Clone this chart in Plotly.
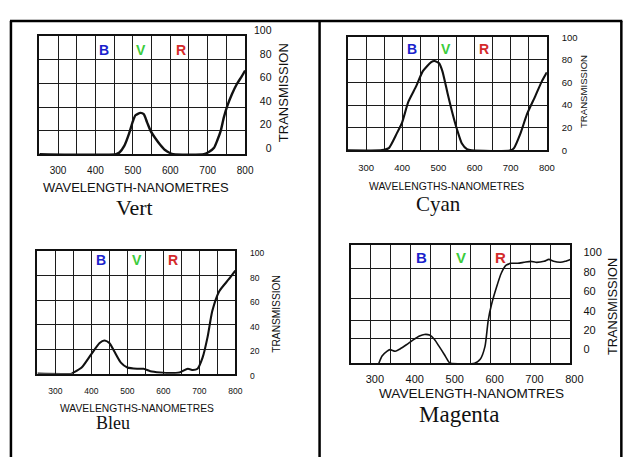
import plotly.graph_objects as go

W, H = 643, 457
OFF = 8  # the page adds an 8 px body margin; positions below are in picture pixels

# ---------------- data ----------------
x_tickvals = [250, 300, 350, 400, 450, 500, 550, 600, 650, 700, 750, 800]
x_ticktext = ["", "300", "", "400", "", "500", "", "600", "", "700", "", "800"]
y_tickvals = [0, 20, 40, 60, 80, 100]
y_ticktext = ["0", "20", "40", "60", "80", "100"]

bvr_letters = ["B", "V", "R"]
bvr_colors = ["#1a22cc", "#3ccc3c", "#d42a2a"]

# Vert
vert_nm = [250, 455, 464, 477, 490, 499, 507, 520, 529, 538, 547, 560, 573, 586,
           599, 608, 690, 704, 717, 726, 735, 743, 752, 765, 778, 791, 800]
vert_t = [0, 0, 1.4, 7, 17.6, 27, 33, 35, 34, 27, 20, 13.5, 8, 3.5,
          1, 0, 0, 2, 5.4, 12, 20, 31, 40.5, 51, 59.5, 66, 71]
vert_bvr_nm = [424, 522, 628]
vert_bvr_t = 88

# Cyan
cyan_nm = [250, 340, 349, 363, 385, 399, 417, 439, 457, 480, 489, 502, 511, 525,
           538, 552, 565, 579, 592, 700, 709, 727, 745, 768, 786, 800]
cyan_t = [0, 0, 0.5, 2, 15, 24, 43, 57, 70, 78, 79, 77, 70, 51,
          34, 18, 6, 1, 0, 0, 2, 15, 32, 48, 61, 69]
cyan_bvr_nm = [426, 522, 626]
cyan_bvr_t = 89.5

# Bleu
bleu_nm = [250, 345, 350, 373, 400, 423, 436, 450, 464, 482, 500, 527, 545, 564,
           591, 618, 645, 668, 682, 695, 709, 723, 736, 755, 782, 800]
bleu_t = [0, 0, 0.8, 5, 16, 25, 27, 25, 18, 9, 5, 4, 4, 2,
          1, 0.5, 1, 4, 3, 4, 13, 30, 51, 67, 77, 84]
bleu_bvr_nm = [427, 527, 627]
bleu_bvr_t = 93

# Magenta (values against the printed 0..100 labels)
mag_nm = [320, 328, 340, 348, 361, 373, 389, 406, 422, 434, 447, 459, 471, 484,
          496, 500, 560, 574, 586, 594, 602, 615, 627, 639, 652, 668, 684, 701,
          713, 734, 746, 758, 775, 787, 800]
mag_t = [-14, -6.6, -1.7, 0, -1.7, 0.7, 5, 10, 14, 15.6, 15, 10.6, 3.3, -5,
         -13, -14, -14, -10, 3.3, 30, 46, 64.6, 79, 87, 89, 89, 90, 91,
         90, 91, 93, 91, 90, 91, 93]
mag_grid_t = [-13.9, 11.6, 29.8, 52.3, 83.4, 107.6]
mag_range = [-13.9, 107.6]
mag_bvr_nm = [426, 526, 625]
mag_bvr_t = 95

SANS = "Liberation Sans, Arial, sans-serif"
SERIF = "Liberation Serif, Times New Roman, serif"
INK = "#111111"


def px(x):
    return (x - OFF) / W


def py(y):
    return 1 - (y - OFF) / H


def xd(a, b):
    return [px(a), px(b)]


def yd(top, bottom):
    return [py(bottom), py(top)]


def xaxis(dom, anchor, fsize, standoff, shift=0):
    return dict(domain=dom, anchor=anchor, range=[250, 800], tickvals=x_tickvals,
                ticktext=x_ticktext, showgrid=True, gridcolor="#1c1c1c", gridwidth=1.3,
                showline=True, mirror=True, linecolor=INK, linewidth=2, zeroline=False,
                ticks="", tickfont=dict(family=SANS, size=fsize, color=INK),
                ticklabelstandoff=standoff, ticklabelshift=shift, fixedrange=True)


def yaxis(dom, anchor, fsize, standoff, show_labels=True, rng=(0, 100), grid=None, shift=0):
    return dict(domain=dom, anchor=anchor, range=list(rng),
                tickvals=grid if grid is not None else y_tickvals,
                ticktext=None if grid is not None else y_ticktext,
                side="right", showticklabels=show_labels, showgrid=True,
                gridcolor="#1c1c1c", gridwidth=1.3, showline=True, mirror=True,
                linecolor=INK, linewidth=2, zeroline=False, ticks="",
                tickfont=dict(family=SANS, size=fsize, color=INK),
                ticklabelstandoff=standoff, ticklabelshift=shift, fixedrange=True)


fig = go.Figure()

curves = [
    (vert_nm, vert_t, "x", "y", 2.4),
    (cyan_nm, cyan_t, "x2", "y2", 2.1),
    (bleu_nm, bleu_t, "x3", "y3", 2.1),
    (mag_nm, mag_t, "x4", "y4", 1.6),
]
for nm, t, xa, ya, lw in curves:
    fig.add_trace(go.Scatter(x=nm, y=t, xaxis=xa, yaxis=ya, mode="lines",
                             line=dict(color=INK, width=lw, shape="spline", smoothing=0.6),
                             showlegend=False, hoverinfo="skip"))

# helper traces so the label-only overlay axes get drawn
fig.add_trace(go.Scatter(x=[], y=[], xaxis="x", yaxis="y5", showlegend=False, hoverinfo="skip"))
fig.add_trace(go.Scatter(x=[], y=[], xaxis="x4", yaxis="y6", showlegend=False, hoverinfo="skip"))

layout = dict(
    width=W, height=H, margin=dict(l=0, r=0, t=0, b=0),
    paper_bgcolor="white", plot_bgcolor="white", showlegend=False,
    xaxis=xaxis(xd(40, 250), "y", 10, 6),
    yaxis=yaxis(yd(25, 148), "x", 10.5, 8, show_labels=False),
    xaxis2=xaxis(xd(355, 558), "y2", 9.5, 7),
    yaxis2=yaxis(yd(26, 144), "x2", 9.5, 11),
    xaxis3=xaxis(xd(38, 240), "y3", 8.5, 8),
    yaxis3=yaxis(yd(249, 377), "x3", 8.5, 11, shift=2),
    xaxis4=xaxis(xd(358, 582), "y4", 11, 5, shift=4),
    yaxis4=yaxis(yd(243, 366), "x4", 11, 12, show_labels=False, rng=mag_range, grid=mag_grid_t),
    yaxis5=dict(overlaying="y", anchor="free", position=px(280), side="right",
                range=[0, 100], tickvals=y_tickvals, ticktext=y_ticktext,
                ticklabelposition="inside", ticklabeloverflow="allow",
                showgrid=False, showline=False, zeroline=False, ticks="",
                ticklabelshift=-6, tickfont=dict(family=SANS, size=10.5, color=INK),
                fixedrange=True),
    yaxis6=dict(overlaying="y4", anchor="x4", side="right", range=mag_range,
                tickvals=y_tickvals, ticktext=y_ticktext, showgrid=False,
                showline=False, zeroline=False, ticks="", ticklabelstandoff=12,
                tickfont=dict(family=SANS, size=11, color=INK), fixedrange=True),
)
fig.update_layout(**layout)

ann = []
# B V R letters
for xa, ya, nms, t, fs in [("x", "y", vert_bvr_nm, vert_bvr_t, 14),
                           ("x2", "y2", cyan_bvr_nm, cyan_bvr_t, 14),
                           ("x3", "y3", bleu_bvr_nm, bleu_bvr_t, 14),
                           ("x4", "y4", mag_bvr_nm, mag_bvr_t, 15)]:
    for letter, col, nm in zip(bvr_letters, bvr_colors, nms):
        ann.append(dict(x=nm, y=t, xref=xa, yref=ya, text="<b>%s</b>" % letter,
                        showarrow=False, font=dict(family=SANS, size=fs, color=col)))


def ptext(text, x, y, size, family=SANS, angle=0):
    ann.append(dict(x=px(x), y=py(y), xref="paper", yref="paper", text=text,
                    showarrow=False, xanchor="center", yanchor="middle", textangle=angle,
                    borderpad=0, font=dict(family=family, size=size, color=INK)))


ptext("WAVELENGTH-NANOMETRES", 139, 183, 13)
ptext("WAVELENGTHS-NANOMETRES", 456, 181.5, 10.4)
ptext("WAVELENGTHS-NANOMETRES", 140, 413, 10.3)
ptext("WAVELENGTH-NANOMTRES", 481, 398, 13.6)

ptext("TRANSMISSION", 290, 84, 13, angle=-90)
ptext("TRANSMISSION", 596, 83, 9.6, angle=-90)
ptext("TRANSMISSION", 282, 314, 10.2, angle=-90)
ptext("TRANSMISSION", 625, 307, 12.8, angle=-90)

ptext("Vert", 137, 204, 22, family=SERIF)
ptext("Cyan", 447, 199.5, 21, family=SERIF)
ptext("Bleu", 115, 429, 18, family=SERIF)
ptext("Magenta", 468, 420, 23, family=SERIF)

fig.update_layout(annotations=ann)

# table frame around the four pictures (picture pixels)
frame = [(11, 9, 11, H + OFF), (634, 9, 634, H + OFF), (326, 9, 326, H + OFF), (10, 9, 635, 9)]
fig.update_layout(shapes=[dict(type="line", xref="paper", yref="paper",
                               x0=px(a), y0=py(b), x1=px(c), y1=py(d),
                               line=dict(color="black", width=2.5)) for a, b, c, d in frame])

fig.write_html("out.html")
